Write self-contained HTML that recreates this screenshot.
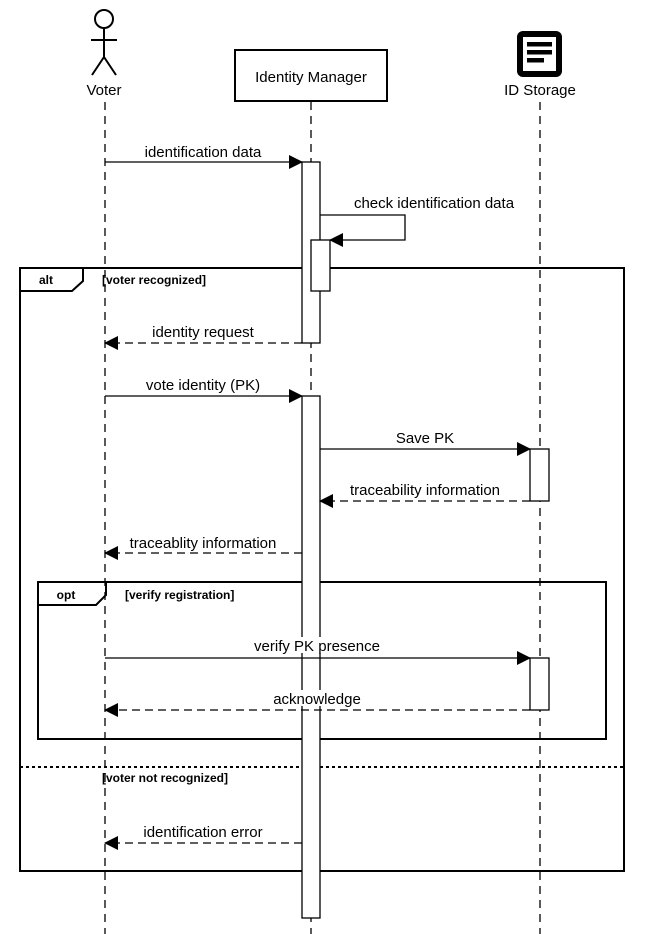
<!DOCTYPE html>
<html><head><meta charset="utf-8"><style>
html,body{margin:0;padding:0;background:#fff;}
svg{display:block;}
text{font-family:"Liberation Sans",Arial,sans-serif;fill:#000;}
</style></head><body>
<svg width="651" height="934" viewBox="0 0 651 934" xmlns="http://www.w3.org/2000/svg">
<defs>
<marker id="a" markerWidth="14" markerHeight="14" refX="13" refY="7" orient="auto" markerUnits="userSpaceOnUse">
<path d="M0,0 L14,7 L0,14 Z" fill="#000"/>
</marker>
</defs>
<rect width="651" height="934" fill="#fff"/>
<g stroke="#000" stroke-width="1.3" stroke-dasharray="8,6" fill="none">
<line x1="105" y1="102" x2="105" y2="934"/>
<line x1="311" y1="102" x2="311" y2="934"/>
<line x1="540" y1="102" x2="540" y2="934"/>
</g>
<g stroke="#000" stroke-width="2" fill="none">
<circle cx="104" cy="19" r="9"/>
<line x1="104" y1="28" x2="104" y2="58"/>
<line x1="91" y1="40" x2="117" y2="40"/>
<line x1="104" y1="57" x2="92" y2="75"/>
<line x1="104" y1="57" x2="116" y2="75"/>
</g>
<rect x="84" y="81" width="40" height="16" fill="#fff"/>
<text x="104" y="95" font-size="15" text-anchor="middle">Voter</text>
<rect x="235" y="50" width="152" height="51" fill="#fff" stroke="#000" stroke-width="2"/>
<text x="311" y="82" font-size="15" text-anchor="middle">Identity Manager</text>
<rect x="517" y="31" width="45" height="46" rx="6" fill="#000"/>
<rect x="523" y="37" width="33" height="34" fill="#fff"/>
<rect x="527" y="42" width="25" height="4.5" fill="#000"/>
<rect x="527" y="50" width="25" height="4.5" fill="#000"/>
<rect x="527" y="58" width="17" height="4.5" fill="#000"/>
<text x="540" y="95" font-size="15" text-anchor="middle">ID Storage</text>
<rect x="20" y="268" width="604" height="603" fill="none" stroke="#000" stroke-width="2"/>
<path d="M20,268 L83,268 L83,281 L72,291 L20,291" fill="none" stroke="#000" stroke-width="2"/>
<text x="46" y="284" font-size="12" font-weight="bold" text-anchor="middle">alt</text>
<text x="102" y="284" font-size="12" font-weight="bold">[voter recognized]</text>
<line x1="20" y1="767" x2="624" y2="767" stroke="#000" stroke-width="2" stroke-dasharray="3,3"/>
<text x="102" y="782" font-size="12" font-weight="bold">[voter not recognized]</text>
<rect x="38" y="582" width="568" height="157" fill="none" stroke="#000" stroke-width="2"/>
<path d="M38,582 L106,582 L106,595 L96,605 L38,605" fill="none" stroke="#000" stroke-width="2"/>
<text x="66" y="599" font-size="12" font-weight="bold" text-anchor="middle">opt</text>
<text x="125" y="599" font-size="12" font-weight="bold">[verify registration]</text>
<g fill="#fff" stroke="#000" stroke-width="1.3">
<rect x="302" y="162" width="18" height="181"/>
<rect x="311" y="240" width="19" height="51"/>
<rect x="302" y="396" width="18" height="522"/>
<rect x="530" y="449" width="19" height="52"/>
<rect x="530" y="658" width="19" height="52"/>
</g>
<g stroke="#000" stroke-width="1.3" fill="none">
<line x1="105" y1="162" x2="302" y2="162" marker-end="url(#a)"/>
<polyline points="320,215 405,215 405,240 330,240" marker-end="url(#a)"/>
<line x1="302" y1="343" x2="105" y2="343" stroke-dasharray="8,5" marker-end="url(#a)"/>
<line x1="105" y1="396" x2="302" y2="396" marker-end="url(#a)"/>
<line x1="320" y1="449" x2="530" y2="449" marker-end="url(#a)"/>
<line x1="530" y1="501" x2="320" y2="501" stroke-dasharray="8,5" marker-end="url(#a)"/>
<line x1="302" y1="553" x2="105" y2="553" stroke-dasharray="8,5" marker-end="url(#a)"/>
<line x1="105" y1="658" x2="530" y2="658" marker-end="url(#a)"/>
<line x1="530" y1="710" x2="105" y2="710" stroke-dasharray="8,5" marker-end="url(#a)"/>
<line x1="302" y1="843" x2="105" y2="843" stroke-dasharray="8,5" marker-end="url(#a)"/>
</g>
<g fill="#fff">
<rect x="255" y="637" width="125" height="16"/>
<rect x="272" y="690" width="92" height="16"/>
</g>
<g font-size="15">
<text x="203" y="157" text-anchor="middle">identification data</text>
<text x="434" y="208" text-anchor="middle">check identification data</text>
<text x="203" y="337" text-anchor="middle">identity request</text>
<text x="203" y="390" text-anchor="middle">vote identity (PK)</text>
<text x="425" y="443" text-anchor="middle">Save PK</text>
<text x="425" y="495" text-anchor="middle">traceability information</text>
<text x="203" y="548" text-anchor="middle">traceablity information</text>
<text x="317" y="651" text-anchor="middle">verify PK presence</text>
<text x="317" y="704" text-anchor="middle">acknowledge</text>
<text x="203" y="837" text-anchor="middle">identification error</text>
</g>
</svg>
</body></html>
